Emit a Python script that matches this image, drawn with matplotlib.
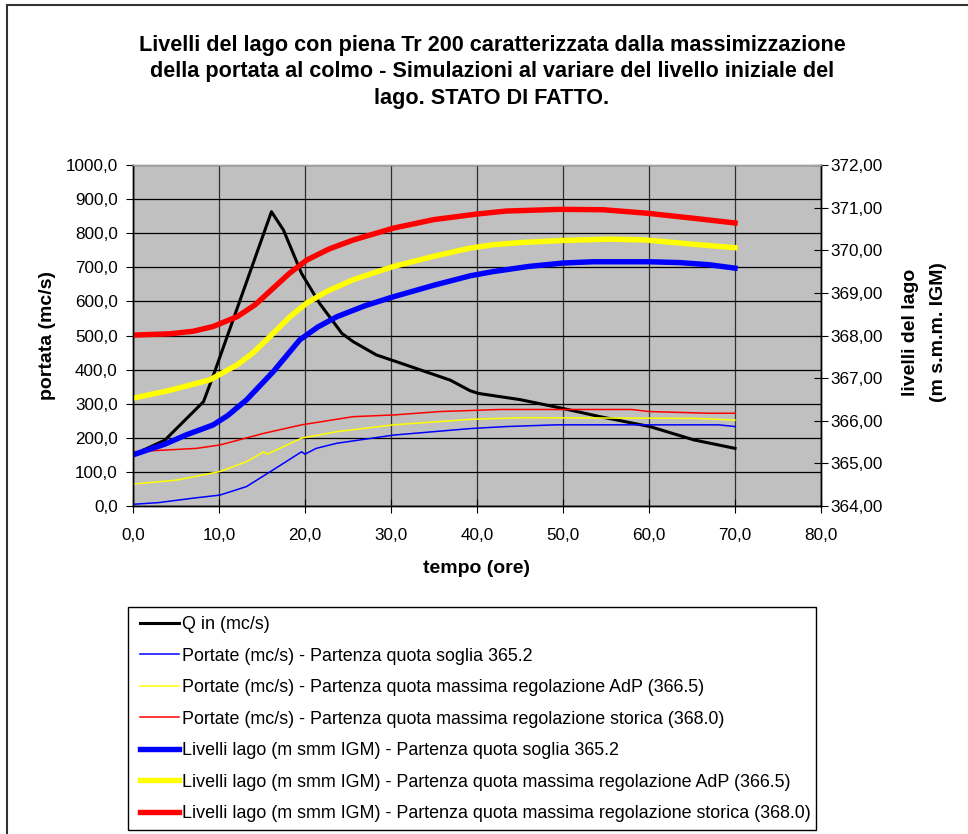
import matplotlib
matplotlib.use("Agg")
import matplotlib.pyplot as plt
from matplotlib.patches import Rectangle
from matplotlib.lines import Line2D
from matplotlib.ticker import FuncFormatter, MultipleLocator

plt.rcParams['font.family'] = ['Liberation Sans', 'DejaVu Sans']

# --- portata in ingresso (mc/s) ---
t_qin = [0, 3.7, 8.2, 9.5, 16.1, 17.5, 19.6, 21.7, 24.3, 25.6, 28.3, 30.3,
         36.9, 39.2, 40.2, 45, 50, 54.3, 60.1, 65.2, 70]
q_in = [150, 193, 306, 394, 863, 809, 682, 594, 506, 482, 443, 426,
        369, 338, 330, 312, 286, 262, 233, 194, 169]

# --- portate uscenti (mc/s) ---
t_q_soglia = [0, 3, 7, 10.1, 13.2, 16.3, 19.6, 20.0, 21.3, 23.7, 30.3, 39.2,
              43.4, 49.2, 68.1, 70]
q_soglia = [5, 10, 23, 32, 57, 106, 159, 152, 169, 184, 208, 227,
            233, 238, 238, 233]

t_q_adp = [0, 5.1, 10.1, 13.2, 15.2, 15.6, 19.6, 23.7, 30.3, 39.2, 45.4, 65.2, 70]
q_adp = [64, 76, 101, 130, 159, 152, 199, 218, 238, 254, 259, 257, 252]

t_q_storica = [0, 7.4, 10.1, 15.2, 19.6, 25.6, 30.3, 35.7, 42.7, 58, 60, 67, 70]
q_storica = [159, 169, 179, 213, 238, 262, 267, 277, 283, 283, 277, 272, 272]

# --- livelli lago (m s.m.m. IGM) ---
t_l_soglia = [0, 3.7, 6.2, 9.3, 11, 13.2, 16.3, 19.4, 21.5, 23.7, 27, 30.3,
              35, 39.2, 41.9, 46, 50, 53.5, 60, 63.6, 67, 70]
l_soglia = [365.20, 365.45, 365.67, 365.90, 366.12, 366.49, 367.15, 367.90,
            368.20, 368.44, 368.70, 368.91, 369.18, 369.40, 369.50, 369.62,
            369.70, 369.73, 369.73, 369.71, 369.66, 369.58]

t_l_adp = [0, 4, 8.95, 12.1, 14, 16.3, 18.2, 20.2, 22.5, 25.6, 30.3, 35,
           39.2, 41.9, 45, 50, 55.5, 59.7, 65.2, 70]
l_adp = [366.53, 366.70, 366.96, 367.31, 367.60, 368.05, 368.43, 368.76,
         369.03, 369.31, 369.62, 369.86, 370.05, 370.13, 370.18, 370.23,
         370.26, 370.24, 370.14, 370.06]

t_l_storica = [0, 4.3, 7, 9.3, 12.1, 14.2, 16.3, 18.2, 20.2, 22.8, 25.6, 30.3,
               35, 40, 43.4, 49.7, 54.7, 59.7, 65.2, 70]
l_storica = [368.01, 368.04, 368.10, 368.21, 368.44, 368.72, 369.11, 369.46,
             369.77, 370.03, 370.24, 370.52, 370.72, 370.85, 370.92, 370.96,
             370.95, 370.87, 370.75, 370.64]

labels = [
    "Q in (mc/s)",
    "Portate (mc/s) - Partenza quota soglia 365.2",
    "Portate (mc/s) - Partenza quota massima regolazione AdP (366.5)",
    "Portate (mc/s) - Partenza quota massima regolazione storica (368.0)",
    "Livelli lago (m smm IGM) - Partenza quota soglia 365.2",
    "Livelli lago (m smm IGM) - Partenza quota massima regolazione AdP (366.5)",
    "Livelli lago (m smm IGM) - Partenza quota massima regolazione storica (368.0)",
]

W, H = 968, 834
fig = plt.figure(figsize=(W / 100, H / 100), dpi=100)

# outer chart frame
fig.patches.append(Rectangle((7 / W, -0.02), 1.0, 1 - 5 / H + 0.02,
                             transform=fig.transFigure, fill=False,
                             edgecolor='#333333', lw=1.5))

ax = fig.add_axes([133 / W, 1 - 506 / H, 688 / W, 341 / H])
ax.set_facecolor('#C0C0C0')
ax2 = ax.twinx()

comma = lambda fmt: FuncFormatter(lambda v, p: (fmt % v).replace('.', ','))

ax.set_xlim(0, 80)
ax.set_ylim(0, 1000)
ax2.set_ylim(364, 372)
ax.xaxis.set_major_locator(MultipleLocator(10))
ax.yaxis.set_major_locator(MultipleLocator(100))
ax2.yaxis.set_major_locator(MultipleLocator(1))
ax.xaxis.set_major_formatter(comma('%.1f'))
ax.yaxis.set_major_formatter(comma('%.1f'))
ax2.yaxis.set_major_formatter(comma('%.2f'))

ax.grid(True, axis='y', color='black', lw=0.9)
ax.grid(True, axis='x', color='#303030', lw=0.9)
ax.set_axisbelow(True)

ax.plot(t_qin, q_in, color='black', lw=2.2, label=labels[0])
ax.plot(t_q_soglia, q_soglia, color='#0000FF', lw=1.1, label=labels[1])
ax.plot(t_q_adp, q_adp, color='#FFFF00', lw=1.1, label=labels[2])
ax.plot(t_q_storica, q_storica, color='#FF0000', lw=1.1, label=labels[3])
ax2.plot(t_l_soglia, l_soglia, color='#0000FF', lw=3.9, label=labels[4])
ax2.plot(t_l_adp, l_adp, color='#FFFF00', lw=3.9, label=labels[5])
ax2.plot(t_l_storica, l_storica, color='#FF0000', lw=3.9, label=labels[6])

for a in (ax, ax2):
    for s in a.spines.values():
        s.set_color('black')
        s.set_linewidth(1.0)
    a.spines['top'].set_color('#A0A0A0')

ax.tick_params(axis='y', direction='out', length=5, labelsize=12.3, pad=6)
ax.tick_params(axis='x', direction='inout', length=10, labelsize=12.3, pad=11)
ax2.tick_params(axis='y', direction='inout', length=10, labelsize=12.3, pad=2)

ax.set_xlabel('tempo (ore)', fontsize=14, fontweight='bold', va='center')
ax.xaxis.set_label_coords(0.5, -0.182)
ax.set_ylabel('portata (mc/s)', fontsize=14, fontweight='bold',
              va='center', ha='center')
ax.yaxis.set_label_coords(-0.125, 0.5)
ax2.set_ylabel('livelli del lago\n(m s.m.m. IGM)', fontsize=14,
               fontweight='bold', rotation=90, linespacing=1.85,
               va='center', ha='center')
ax2.yaxis.set_label_coords(1.150, 0.51)

fig.text(492 / W, 1 - 72 / H,
         "Livelli del lago con piena Tr 200 caratterizzata dalla massimizzazione\n"
         "della portata al colmo - Simulazioni al variare del livello iniziale del\n"
         "lago. STATO DI FATTO.",
         ha='center', va='center', fontsize=15.6, fontweight='bold',
         linespacing=1.34)

# legend box
fig.patches.append(Rectangle((128 / W, 1 - 830 / H), (816 - 128) / W,
                             (830 - 607) / H, transform=fig.transFigure,
                             facecolor='white', edgecolor='black', lw=1.0,
                             zorder=0))
handles = [Line2D([], [], color=c, lw=w) for c, w in [
    ('black', 2.2), ('#0000FF', 1.1), ('#FFFF00', 1.1), ('#FF0000', 1.1),
    ('#0000FF', 3.9), ('#FFFF00', 3.9), ('#FF0000', 3.9)]]
fig.legend(handles, labels, loc='upper left',
           bbox_to_anchor=(140 / W, 1 - 616 / H), frameon=False,
           fontsize=12.9, handlelength=2.2, handletextpad=0.17,
           labelspacing=0.81, borderaxespad=0, borderpad=0)

fig.savefig('out.png', dpi=100)
